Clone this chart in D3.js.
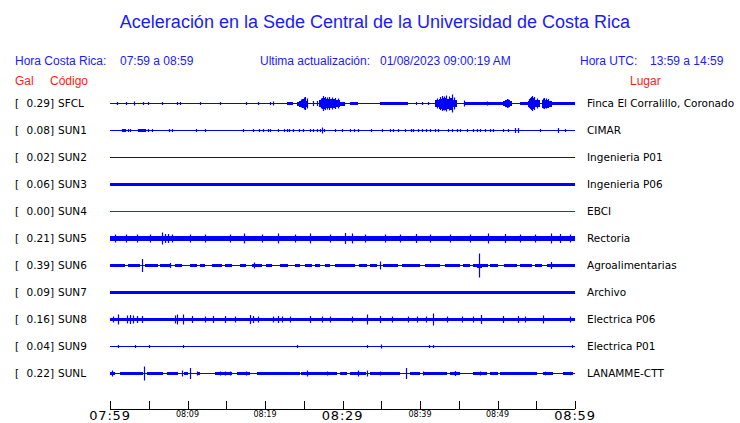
<!DOCTYPE html>
<html><head><meta charset="utf-8">
<script src="https://cdn.jsdelivr.net/npm/d3@7"></script>
<style>body{margin:0;background:#fff}svg{display:block}</style>
</head><body>
<script>
// ---------------- DATA ----------------
const codes  = ["SFCL","SUN1","SUN2","SUN3","SUN4","SUN5","SUN6","SUN7","SUN8","SUN9","SUNL"];
const places = ["Finca El Corralillo, Coronado","CIMAR","Ingenieria P01","Ingenieria P06","EBCI","Rectoria","Agroalimentarias","Archivo","Electrica P06","Electrica P01","LANAMME-CTT"];
const maxGal = [0.29,0.08,0.02,0.06,0.00,0.21,0.39,0.09,0.16,0.04,0.22];
const traceColor = ["#0000ff","#0000ff","#0000ff","#0000ff","#d00000","#0000ff","#0000ff","#0000ff","#0000ff","#0000ff","#0000ff"];
// time axis: minutes after 07:59
const tickMinutes = [0,5,10,15,20,25,30,35,40,45,50,55,60];
const tickLabels  = {0:"07:59",10:"08:09",20:"08:19",30:"08:29",40:"08:39",50:"08:49",60:"08:59"};
const majorTicks  = [0,30,60];

// bands: [t0, t1, half-amplitude]  (relative amplitude units, lane = ±13.5)
const bandsSFCL = [[22.8,23.6,1.5],[24.1,24.4,2],[24.4,24.8,3],[24.8,25.3,4.5],[25.3,25.6,3],
  [27.0,27.3,3.5],[27.3,27.9,5.5],[27.9,28.5,4.5],[28.5,29.2,4.5],[29.2,29.7,3.5],[29.7,30.3,2],[31.0,32.0,1.5],
  [34.8,38.4,1.5],[41.9,42.4,3.5],[42.4,43.0,5],[43.0,43.5,6],[43.5,43.9,5],[43.9,44.3,6],[44.3,44.8,3.5],
  [45.8,50.7,1.5],[50.7,51.0,2.5],[51.0,51.6,3.5],[51.6,51.9,2.5],[52.9,53.9,1.5],
  [53.9,54.2,3],[54.2,54.9,5.5],[54.9,55.5,3.5],[55.7,56.6,4],[56.6,57.0,3],[57.0,60,1.5]];
const spikesSFCL = [[0.9,1.5],[2.1,1.5],[3.1,2],[4.3,1.5],[4.9,1.5],[6.7,1.5],[8.7,1.5],[9.0,1.5],[11.6,1.5],
  [14.2,1.5],[17.5,1.5],[19.1,1.5],[20.6,1.5],[21.0,2],[24.6,4],[25.0,6],[25.2,6.5],[25.4,5],[26.2,2.5],[26.7,2.5],
  [27.2,5],[27.5,7.5],[27.7,6.5],[28.0,6],[28.3,6.5],[28.7,6],[29.0,5.5],[29.4,5],
  [39.5,1.5],[40.3,1.5],[41.0,1.5],[42.2,5],[42.6,6.5],[42.8,7.5],[43.1,7],[43.3,8],[43.7,7],[44.1,9],[44.4,6],
  [45.7,3],[48.6,2],[51.2,4.5],[51.4,4],[54.1,4.5],[54.3,6.5],[54.5,7.5],[54.7,6.5],[55.1,5],
  [55.9,5],[56.0,5.5],[56.3,5],[56.5,4.5]];

const bandsSUN1 = [[1.5,2.0,1.2],[3.6,4.5,1.2]];
const spikesSUN1 = [[1.55,1.5],[1.94,1.5],[2.3,1.5],[2.6,1.5],[3.6,1.5],[4.0,1.5],[4.5,1.5],[4.9,1.5],[5.4,1.5],
  [7.6,1.5],[8.0,1.5],[11.1,1.5],[12.3,1.5],[17.2,1.5],[18.5,1.5],[19.2,1.5],[19.7,1.5],[20.4,1.5],[20.6,1.5],
  [21.7,1.5],[22.5,1.5],[22.8,1.5],[23.1,1.5],[23.6,1.5],[24.4,1.5],[24.9,1.5],[25.8,1.5],[26.2,1.5],[26.7,1.5],
  [27.1,1.5],[27.3,3],[27.6,1.5],[29.0,1.5],[29.9,1.5],[31.0,1.5],[31.5,1.5],[32.0,1.5],[33.7,1.5],[35.1,1.5],
  [36.1,1.5],[36.5,1.5],[37.2,1.5],[38.1,1.5],[38.8,1.5],[39.1,1.5],[39.7,1.5],[40.3,1.5],[40.8,1.5],[41.3,1.5],
  [41.9,1.5],[42.3,1.5],[43.6,1.5],[44.1,1.5],[44.8,1.5],[45.2,1.5],[46.1,1.5],[46.8,1.5],[47.4,1.5],[47.7,1.5],
  [48.4,1.5],[49.0,1.5],[49.4,1.5],[50.7,1.5],[51.4,1.5],[52.3,2.5],[52.6,2.5],[55.5,1.5],[57.8,2.5],[58.7,1.5]];

const bandsSUN2 = [];
const spikesSUN2 = [];
const bandsSUN3 = [[0,60,1.8]];
const spikesSUN3 = [];
const bandsSUN4 = [];
const spikesSUN4 = [];

const bandsSUN5 = [[0,60,2.8]];
const spikesSUN5 = [[0.6,4],[2.1,4],[3.5,4],[5.2,4],[6.7,6],[7.1,4.5],[7.5,4.5],[8.0,4],[10.3,4],[12.3,4],
  [15.5,4],[17.3,5],[19.6,4],[21.7,5],[23.9,4],[25.8,5],[28.4,4],[30.3,5.5],[31.2,5],[32.9,4],[35.5,4],
  [37.4,4],[39.5,4.5],[41.3,4],[43.9,4],[46.5,4],[48.8,5],[51.0,4.5],[52.9,4],[54.8,4],[56.9,5],[58.1,4.5],[59.4,4]];

const bandsSUN6 = [[0,1.9,1.1],[2.3,3.9,1.1],[4.5,6.2,1.1],[6.5,7.7,1.1],[8.4,9.3,1.1],[10.3,11.2,1.1],
  [11.6,12.3,1.1],[13.2,14.5,1.1],[14.8,15.7,1.1],[16.8,17.5,1.1],[18.3,19.6,1.1],[20.1,20.9,1.1],[21.9,23.0,1.1],
  [23.9,24.5,1.1],[25.2,26.0,1.1],[26.4,27.1,1.1],[27.7,28.4,1.1],[29.0,31.6,1.1],[32.1,33.1,1.1],[33.5,34.4,1.1],
  [35.2,37.2,1.1],[37.7,40.0,1.1],[40.6,42.6,1.1],[43.2,45.2,1.1],[45.6,46.5,1.1],[46.8,48.8,1.1],[49.0,50.0,1.1],
  [50.8,52.5,1.1],[52.9,54.5,1.1],[54.8,55.8,1.1],[56.4,60,1.1],[47.3,48.0,2]];
const spikesSUN6 = [[4.1,6.5],[7.7,2.5],[18.6,3],[34.9,4],[47.6,12],[56.9,3.5]];

const bandsSUN7 = [[0,60,1.6]];
const spikesSUN7 = [];

const bandsSUN8 = [[0,60,1.8]];
const spikesSUN8 = [[0.4,3],[1.0,5],[2.2,4],[2.6,4.5],[3.0,4],[3.5,3.5],[4.1,3.5],[8.4,4],[8.6,5],[9.4,5],
  [10.6,3.5],[12.3,3],[13.3,3.5],[14.8,3.5],[16.1,3],[18.1,4.5],[18.5,3.5],[19.1,3],[21.0,3],[21.7,3.5],[22.2,3],
  [23.2,3],[25.8,3.5],[27.4,3],[28.4,3],[31.2,3],[33.2,5],[34.8,3.5],[36.4,3],[38.5,3],[39.6,3],[40.8,3],[41.7,6],
  [43.5,3],[45.4,3],[46.8,3],[47.9,4.5],[50.7,3.5],[52.6,3.5],[53.5,3],[55.9,4],[59.4,3]];

const bandsSUN9 = [];
const spikesSUN9 = [[1.0,1.5],[3.2,1.5],[5.0,1.5],[9.4,1.5],[24.1,1.5],[33.2,1.5],[35.0,2],[41.2,1.5],[41.7,1.5],[59.6,1.5]];

const bandsSUNL = [[0,0.6,1.3],[1.3,4.3,1.3],[4.8,6.8,1.3],[7.4,8.8,1.3],[9.5,10.1,1.3],[11.2,11.6,1.3],
  [13.5,15.7,1.3],[16.4,18.1,1.3],[19.0,24.5,1.3],[24.6,29.3,1.3],[29.7,30.6,1.3],[31.0,33.0,1.3],[33.5,37.4,1.3],
  [38.7,40.0,1.3],[40.4,43.5,1.3],[43.9,45.2,1.3],[46.8,48.6,1.3],[49.0,50.0,1.3],[50.3,55.1,1.3],[55.9,57.2,1.3],[58.5,59.8,1.3]];
const spikesSUNL = [[0.3,3],[4.4,7],[9.3,3],[10.3,5.5],[11.2,2],[14.2,2],[14.8,2],[15.5,2],[17.5,2],[25.4,3],
  [28.0,2],[32.0,3],[33.2,3],[34.8,2],[38.2,5.5],[40.4,2],[44.5,2.5],[47.7,2],[56.1,1.8],[59.4,1.8]];

const allBands  = [bandsSFCL,bandsSUN1,bandsSUN2,bandsSUN3,bandsSUN4,bandsSUN5,bandsSUN6,bandsSUN7,bandsSUN8,bandsSUN9,bandsSUNL];
const allSpikes = [spikesSFCL,spikesSUN1,spikesSUN2,spikesSUN3,spikesSUN4,spikesSUN5,spikesSUN6,spikesSUN7,spikesSUN8,spikesSUN9,spikesSUNL];

// ---------------- DRAW ----------------
const W = 740, H = 423;
const svg = d3.select("body").append("svg").attr("width", W).attr("height", H);
const BLUE = "#1a1aff", RED = "#ff1a1a";
const SANS = "'Liberation Sans', Arial, sans-serif";
const DEJA = "'DejaVu Sans', sans-serif";

svg.append("text").attr("x", 375).attr("y", 28).attr("text-anchor", "middle")
  .attr("font-family", SANS).attr("font-size", 18).attr("fill", BLUE)
  .text("Aceleración en la Sede Central de la Universidad de Costa Rica");

const hdr = [["Hora Costa Rica:",15],["07:59 a 08:59",120],["Ultima actualización:",260],["01/08/2023 09:00:19 AM",380],["Hora UTC:",580],["13:59 a 14:59",650]];
svg.selectAll("text.hdr").data(hdr).enter().append("text").attr("class","hdr")
  .attr("x", d => d[1]).attr("y", 65).attr("font-family", SANS).attr("font-size", 12).attr("fill", BLUE).text(d => d[0]);
const sub = [["Gal",15],["Código",50],["Lugar",630]];
svg.selectAll("text.sub").data(sub).enter().append("text").attr("class","sub")
  .attr("x", d => d[1]).attr("y", 85).attr("font-family", SANS).attr("font-size", 12).attr("fill", RED).text(d => d[0]);

const x = d3.scaleLinear().domain([0, 60]).range([110, 575]);
const lane = d3.scaleBand().domain(codes).range([90, 387]);
const amp = d3.scaleLinear().domain([-13.5, 13.5]).range([13.5, -13.5]);
const px = t => Math.round(x(t)) + 0.5;

codes.forEach((c, i) => {
  const cy = lane(c) + lane.bandwidth() / 2;
  const g = svg.append("g").attr("transform", `translate(0,${cy})`);
  const col = traceColor[i];
  const lbl = (xx, txt, anchor) => g.append("text").attr("x", xx).attr("y", 3.5)
    .attr("text-anchor", anchor || "start").attr("font-family", DEJA).attr("font-size", 10.5).attr("fill", "#000").text(txt);
  lbl(15, "[");
  lbl(54, maxGal[i].toFixed(2) + "]", "end");
  lbl(58, c);
  lbl(587, places[i]);

  g.append("line").attr("x1", x(0)).attr("x2", x(60)).attr("y1", 0).attr("y2", 0)
    .attr("stroke", col).attr("stroke-width", 1).attr("shape-rendering", "crispEdges");
  g.selectAll("rect.band").data(allBands[i]).enter().append("rect").attr("class","band")
    .attr("x", d => x(d[0])).attr("width", d => x(d[1]) - x(d[0]))
    .attr("y", d => amp(d[2])).attr("height", d => amp(-d[2]) - amp(d[2]))
    .attr("fill", col).attr("shape-rendering","crispEdges");
  g.selectAll("line.spk").data(allSpikes[i]).enter().append("line").attr("class","spk")
    .attr("x1", d => px(d[0])).attr("x2", d => px(d[0]))
    .attr("y1", d => amp(d[1])).attr("y2", d => amp(-d[1]))
    .attr("stroke", col).attr("stroke-width", 1.2);
});

// time axis
const axisY = 409;
svg.append("line").attr("x1", x(0)).attr("x2", x(60)).attr("y1", axisY).attr("y2", axisY)
  .attr("stroke", "#000").attr("stroke-width", 1).attr("shape-rendering","crispEdges");
svg.selectAll("line.tick").data(tickMinutes).enter().append("line").attr("class","tick")
  .attr("x1", d => px(d)).attr("x2", d => px(d))
  .attr("y1", axisY - 8).attr("y2", axisY).attr("stroke", "#000").attr("stroke-width", 1);
svg.selectAll("text.tl").data(tickMinutes.filter(t => tickLabels[t])).enter().append("text").attr("class","tl")
  .attr("x", d => x(d)).attr("y", d => majorTicks.includes(d) ? 420 : 417)
  .attr("text-anchor", "middle").attr("font-family", DEJA)
  .attr("font-size", d => majorTicks.includes(d) ? 13 : 8)
  .attr("letter-spacing", d => majorTicks.includes(d) ? 0.8 : 0)
  .attr("fill", "#000").text(d => tickLabels[d]);
</script>
</body></html>
